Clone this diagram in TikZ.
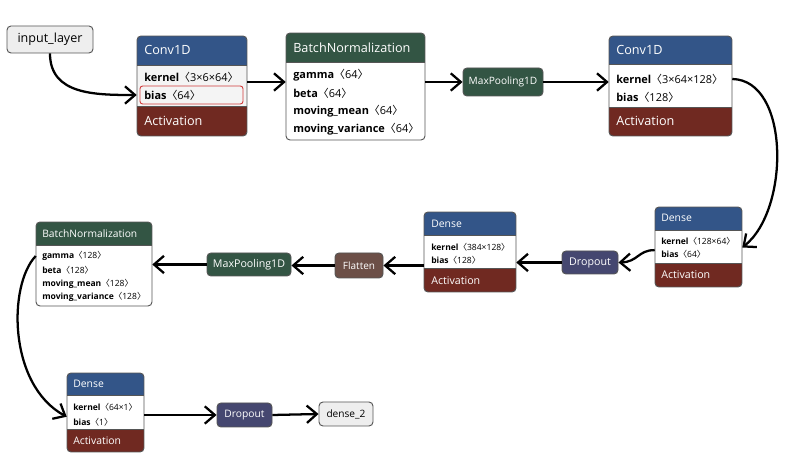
\documentclass[tikz,border=0pt]{standalone}
\usepackage{fontspec}
\setmainfont{Open Sans}
\newfontfamily\cjk{Noto Sans CJK SC}
\usetikzlibrary{arrows.meta,fit,calc}
\definecolor{hdrblue}{HTML}{335588}
\definecolor{hdrgreen}{HTML}{335544}
\definecolor{actred}{HTML}{702921}
\definecolor{dropc}{HTML}{454770}
\definecolor{flatc}{HTML}{6C4F47}
\definecolor{ioc}{HTML}{EEEEEE}
\definecolor{bordc}{HTML}{555555}
\definecolor{selbody}{HTML}{F4F4F4}
\definecolor{selred}{HTML}{D03A3A}
\newcommand\lbr{{\cjk 〈}}
\newcommand\rbr{{\cjk 〉}}
\newcommand\fs[1]{\fontsize{#1}{#1}\selectfont}
% name, x1, y1, x2, yh, yb, y2, header colour, body colour
\newcommand\layerbox[9]{%
  \begin{scope}
    \clip[rounded corners=3pt] (#2,#3) rectangle (#4,#7);
    \fill[#8] (#2,#3) rectangle (#4,#5);
    \fill[#9] (#2,#5) rectangle (#4,#6);
    \fill[actred] (#2,#6) rectangle (#4,#7);
  \end{scope}
  \draw[bordc, line width=0.7pt, rounded corners=3pt] (#2,#3) rectangle (#4,#7);
  \draw[bordc, line width=0.5pt] (#2,#5) -- (#4,#5);
  \ifnum#6<#7\relax\draw[bordc, line width=0.5pt] (#2,#6) -- (#4,#6);\fi
  \path (#2,#3) coordinate (#1-nw) (#4,#7) coordinate (#1-se);
  \node[fit=(#1-nw)(#1-se), inner sep=0pt] (#1) {};
}
% name, x1, y1, x2, y2, fill, text colour, font size, text
\newcommand\smallbox[9]{%
  \path (#2,#3) coordinate (#1-nw) (#4,#5) coordinate (#1-se);
  \node[fit=(#1-nw)(#1-se), inner sep=0pt, draw=bordc, line width=0.7pt,
        rounded corners=3pt, fill=#6] (#1) {};
  \node[inner sep=0pt, text=#7, font=\fs{#8}] (#1-t) at (#1.center) {#9};
}
\tikzset{
  hdr/.style={anchor=west, inner sep=0pt, text=white},
  row/.style={anchor=west, inner sep=0pt, text=black},
  conn/.style={line width=1.7pt, -{Straight Barb[length=7.5pt,width=13pt]}},
}
\begin{document}
\begin{tikzpicture}[x=0.75pt,y=-0.75pt]
\useasboundingbox (0,0) rectangle (793,473);
\fill[white] (0,0) rectangle (793,473);

% ---------- row 1 ----------
\smallbox{inp}{7}{26}{93}{53}{ioc}{black}{9.4pt}{input\_layer}

\layerbox{c1}{137}{36}{247}{65}{106}{136}{hdrblue}{selbody}
\draw[selred, line width=0.7pt, rounded corners=2pt] (140,86) rectangle (243,104);
\node[hdr, font=\fs{9.5pt}] (c1h) at (144,50) {Conv1D};
\node[row, font=\fs{8.2pt}] (c1k) at (144,77) {\textbf{kernel}\lbr3×6×64\rbr};
\node[row, font=\fs{8.2pt}] (c1b) at (144,95) {\textbf{bias}\lbr64\rbr};
\node[hdr, font=\fs{9.5pt}] (c1a) at (144,121) {Activation};

\layerbox{bn1}{286}{33}{425}{62}{140}{140}{hdrgreen}{white}
\node[hdr, font=\fs{9.5pt}] (bn1h) at (293,48) {BatchNormalization};
\node[row, font=\fs{8.2pt}] (bn1g) at (293,75) {\textbf{gamma}\lbr64\rbr};
\node[row, font=\fs{8.2pt}] (bn1b) at (293,93) {\textbf{beta}\lbr64\rbr};
\node[row, font=\fs{8.2pt}] (bn1m) at (293,111) {\textbf{moving\_mean}\lbr64\rbr};
\node[row, font=\fs{8.2pt}] (bn1v) at (293,129) {\textbf{moving\_variance}\lbr64\rbr};

\smallbox{mp1}{463}{68}{543}{96}{hdrgreen}{white}{7.6pt}{MaxPooling1D}

\layerbox{c2}{609}{36}{732}{64}{107}{136}{hdrblue}{white}
\node[hdr, font=\fs{9.5pt}] (c2h) at (616,50) {Conv1D};
\node[row, font=\fs{8.2pt}] (c2k) at (616,79) {\textbf{kernel}\lbr3×64×128\rbr};
\node[row, font=\fs{8.2pt}] (c2b) at (616,97) {\textbf{bias}\lbr128\rbr};
\node[hdr, font=\fs{9.5pt}] (c2a) at (616,121) {Activation};

% ---------- row 2 ----------
\layerbox{d1}{655}{207}{742}{230}{263}{287}{hdrblue}{white}
\node[hdr, font=\fs{7.8pt}] (d1h) at (661,218) {Dense};
\node[row, font=\fs{6.4pt}] (d1k) at (661,241) {\textbf{kernel}\lbr128×64\rbr};
\node[row, font=\fs{6.4pt}] (d1b) at (661,254) {\textbf{bias}\lbr64\rbr};
\node[hdr, font=\fs{8pt}] (d1a) at (661,275) {Activation};

\smallbox{dr1}{562}{251}{618}{274}{dropc}{white}{8pt}{Dropout}

\layerbox{d2}{424}{212}{516}{235}{268}{292}{hdrblue}{white}
\node[hdr, font=\fs{7.8pt}] (d2h) at (431,224) {Dense};
\node[row, font=\fs{6.4pt}] (d2k) at (431,247) {\textbf{kernel}\lbr384×128\rbr};
\node[row, font=\fs{6.4pt}] (d2b) at (431,260) {\textbf{bias}\lbr128\rbr};
\node[hdr, font=\fs{8pt}] (d2a) at (431,281) {Activation};

\smallbox{fl}{335}{253}{383}{278}{flatc}{white}{7.5pt}{Flatten}
\smallbox{mp2}{207}{253}{291}{276}{hdrgreen}{white}{8pt}{MaxPooling1D}

\layerbox{bn2}{36}{222}{152}{245}{306}{306}{hdrgreen}{white}
\node[hdr, font=\fs{7.7pt}] (bn2h) at (42,234) {BatchNormalization};
\node[row, font=\fs{6.4pt}] (bn2g) at (42,256) {\textbf{gamma}\lbr128\rbr};
\node[row, font=\fs{6.4pt}] (bn2b) at (42,270) {\textbf{beta}\lbr128\rbr};
\node[row, font=\fs{6.4pt}] (bn2m) at (42,284) {\textbf{moving\_mean}\lbr128\rbr};
\node[row, font=\fs{6.4pt}] (bn2v) at (42,297) {\textbf{moving\_variance}\lbr128\rbr};

% ---------- row 3 ----------
\layerbox{d3}{67}{373}{144}{395}{429}{452}{hdrblue}{white}
\node[hdr, font=\fs{7.8pt}] (d3h) at (73,384) {Dense};
\node[row, font=\fs{6.4pt}] (d3k) at (73,407) {\textbf{kernel}\lbr64×1\rbr};
\node[row, font=\fs{6.4pt}] (d3b) at (73,422) {\textbf{bias}\lbr1\rbr};
\node[hdr, font=\fs{7.8pt}] (d3a) at (73,441) {Activation};

\smallbox{dr2}{217}{403}{272}{427}{dropc}{white}{7.7pt}{Dropout}
\smallbox{out}{319}{402}{373}{426}{ioc}{black}{7.6pt}{dense\_2}

% ---------- connectors ----------
\draw[conn] (inp.south) to[out=-90,in=180,looseness=1.1] (c1.west |- c1b);
\draw[conn] (c1.east |- mp1) -- (bn1.west |- mp1);
\draw[conn] (bn1.east |- mp1) -- (mp1.west);
\draw[conn] (mp1.east) -- (c2.west |- mp1);
\draw[conn] (c2.east |- c2k) .. controls (790,80) and (790,210) .. ($(d1.east |- d1k)!0.5!(d1.east |- d1b)$);
\draw[conn] ($(d1.west |- d1k)!0.7!(d1.west |- d1b)$) .. controls (638,250) and (638,262) .. (dr1.east);
\draw[conn] (dr1.west) -- (d2.east |- dr1);
\draw[conn] (d2.west |- fl) -- (fl.east);
\draw[conn] (fl.west) -- (mp2.east |- fl);
\draw[conn] (mp2.west) -- (bn2.east |- mp2);
\draw[conn] (bn2.west |- bn2g) .. controls (8,285) and (8,385) .. ($(d3.west |- d3k)!0.65!(d3.west |- d3b)$);
\draw[conn] (d3.east |- dr2) -- (dr2.west);
\draw[conn] (dr2.east) -- (out.west);
\end{tikzpicture}
\end{document}
